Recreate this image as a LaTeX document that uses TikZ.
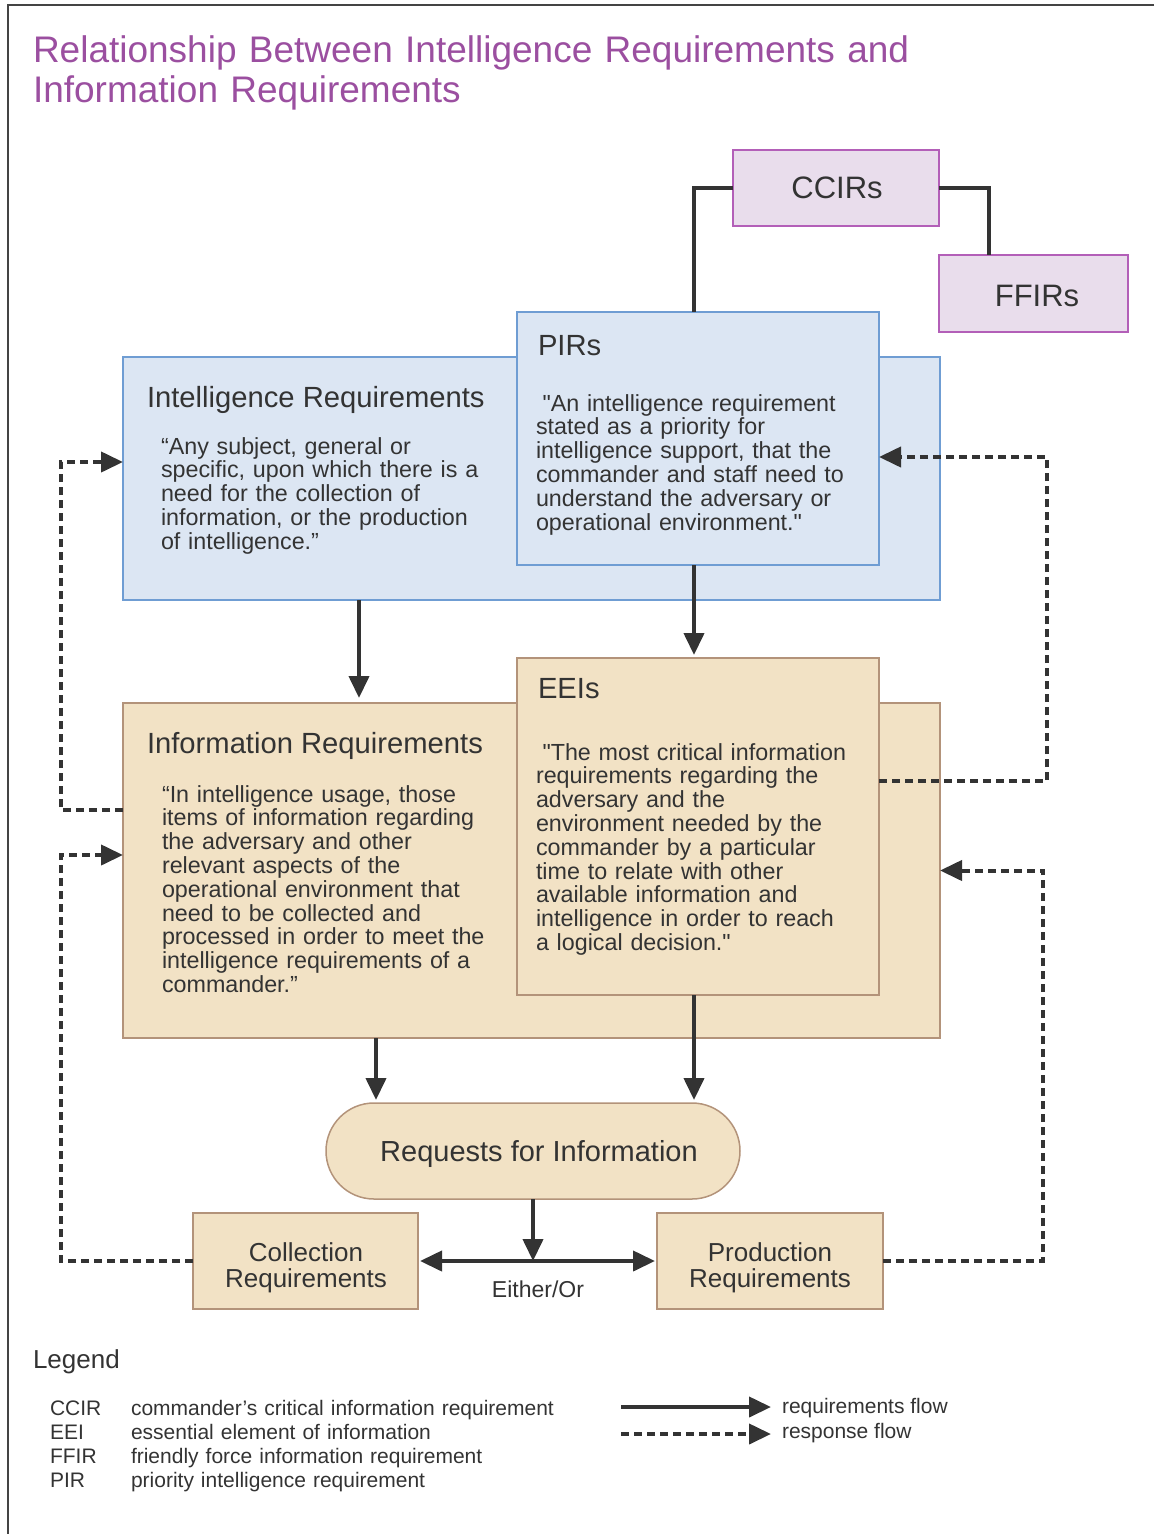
\documentclass[tikz,border=0pt]{standalone}
\usepackage{fontspec}
\setmainfont{Liberation Sans}
\newfontfamily\qfont{Liberation Sans}[Ligatures=TeXOff]
\usetikzlibrary{arrows.meta,calc}
\definecolor{txt}{HTML}{333333}
\definecolor{ttl}{HTML}{9B4FA0}
\definecolor{lavfill}{HTML}{E9DDEC}
\definecolor{lavline}{HTML}{B35FB8}
\definecolor{bluefill}{HTML}{DCE6F3}
\definecolor{blueline}{HTML}{6F9DD3}
\definecolor{tanfill}{HTML}{F2E2C5}
\definecolor{tanline}{HTML}{B3937A}
\definecolor{arr}{HTML}{333333}
\definecolor{framecol}{HTML}{444444}
\newcommand{\fsz}[2]{\fontsize{#1}{#2}\selectfont}
\newcommand{\sq}{{\qfont"}}
\begin{document}
\begin{tikzpicture}[x=1pt,y=-1pt,
  every node/.style={text=txt, inner sep=0pt, outer sep=0pt},
  lavbox/.style={draw=lavline, fill=lavfill, line width=1.5pt, anchor=north west},
  bluebox/.style={draw=blueline, fill=bluefill, line width=1.5pt, anchor=north west},
  tanbox/.style={draw=tanline, fill=tanfill, line width=1.5pt, anchor=north west},
  conn/.style={draw=arr, line width=4pt},
  req/.style={draw=arr, line width=4pt, -{Triangle[length=22pt,width=20pt]}},
  resp/.style={req, dash pattern=on 8pt off 5pt},
  qtext/.style={anchor=base west, align=left, text width=360pt, font=\fsz{23.3}{23.8}},
  hdtext/.style={anchor=base west, font=\fsz{29.2}{30}},
  legtext/.style={anchor=base west, align=left, font=\fsz{21}{24}}
]
\useasboundingbox (0,0) rectangle (1154,1534);
\draw[framecol, line width=2.5pt] (1154,5) -- (8,5) -- (8,1534);

% title
\node[anchor=base west, text=ttl, font=\fsz{37}{40}, align=left, text width=1000pt] (title) at (33,62)
  {Relationship Between Intelligence Requirements and\\Information Requirements};

% boxes
\node[lavbox, anchor=center, minimum width=206pt, minimum height=76pt] (CCIR) at (836,188) {};
\node[font=\fsz{31}{31}] (CCIRt) at (837,188) {CCIRs};
\node[lavbox, anchor=center, minimum width=189pt, minimum height=77pt] (FFIR) at (1033.5,293.5) {};
\node[font=\fsz{31}{31}] (FFIRt) at (1037,296) {FFIRs};

\node[bluebox, minimum width=817pt, minimum height=243pt] (IR) at (123,357) {};
\node[bluebox, minimum width=362pt, minimum height=253pt] (PIR) at (517,312) {};
\node[tanbox, minimum width=817pt, minimum height=335pt] (INFO) at (123,703) {};
\node[tanbox, minimum width=362pt, minimum height=337pt] (EEI) at (517,658) {};

\node[tanbox, anchor=center, rounded corners=48pt, minimum width=414pt, minimum height=96pt] (RFI) at (533,1151) {};
\node[font=\fsz{29}{29}, text depth=0pt] (RFIt) at (539,1151) {Requests for Information};
\node[tanbox, anchor=center, minimum width=225pt, minimum height=96pt] (COL) at (305.5,1261) {};
\node[align=center, font=\fsz{26}{26}] (COLt) at (306,1268) {Collection\\Requirements};
\node[tanbox, anchor=center, minimum width=226pt, minimum height=96pt] (PROD) at (770,1261) {};
\node[align=center, font=\fsz{26}{26}] (PRODt) at (770,1268) {Production\\Requirements};

% box texts
\node[hdtext] (irh) at (147,407) {Intelligence Requirements};
\node[qtext] (irq) at (161,454) {“Any subject, general or\\specific, upon which there is a\\need for the collection of\\information, or the production\\of intelligence.”};
\node[hdtext] (pirh) at (538,355) {PIRs};
\node[qtext] (pirq) at (536,411) {\hspace*{.28em}\sq An intelligence requirement\\stated as a priority for\\intelligence support, that the\\commander and staff need to\\understand the adversary or\\operational environment.\sq};
\node[hdtext] (infh) at (147,753) {Information Requirements};
\node[qtext] (infq) at (162,802) {“In intelligence usage, those\\items of information regarding\\the adversary and other\\relevant aspects of the\\operational environment that\\need to be collected and\\processed in order to meet the\\intelligence requirements of a\\commander.”};
\node[hdtext] (eeih) at (538,698) {EEIs};
\node[qtext] (eeiq) at (536,760) {\hspace*{.28em}\sq The most critical information\\requirements regarding the\\adversary and the\\environment needed by the\\commander by a particular\\time to relate with other\\available information and\\intelligence in order to reach\\a logical decision.\sq};

% solid connectors
\draw[conn] (CCIR.west) -| ([xshift=-4pt]PIR.north);
\draw[conn] (CCIR.east) -| ([xshift=50pt]FFIR.north west);
\draw[req, shorten >=5pt] ([xshift=236pt]IR.south west) -- ([xshift=236pt]INFO.north west);
\draw[req, shorten >=3pt] ([xshift=-4pt]PIR.south) -- ([xshift=-4pt]EEI.north);
\coordinate (a1) at ([xshift=253pt]INFO.south west);
\coordinate (a2) at ([xshift=-4pt]EEI.south);
\draw[req, shorten >=3pt] (a1) -- (a1 |- RFI.north);
\draw[req, shorten >=3pt] (a2) -- (a2 |- RFI.north);
\draw[req] (RFI.south) -- (RFI.south |- COL.east);
\draw[req, {Triangle[length=22pt,width=20pt]}-{Triangle[length=22pt,width=20pt]}, shorten <=2pt, shorten >=2pt] (COL.east) -- (PROD.west);
\node[font=\fsz{23}{23}] (either) at (538,1289) {Either/Or};

% dashed response connectors
\draw[resp] ([yshift=60.5pt]INFO.west) -- ++(-62,0) |- ([yshift=16.5pt]IR.west);
\draw[resp] (COL.west) -- ++(-132,0) |- ([yshift=15.5pt]INFO.west);
\draw[resp] ([yshift=45.5pt]EEI.east) -- ++(168,0) |- ([yshift=-18.5pt]PIR.east);
\draw[resp] (PROD.east) -- ++(160,0) |- (INFO.east);

% legend
\node[anchor=base west, font=\fsz{26}{26}] (leg) at (33,1368) {Legend};
\node[legtext, text width=80pt] (abbr) at (50,1415) {CCIR\\EEI\\FFIR\\PIR};
\node[legtext, text width=460pt] (defs) at (131,1415) {commander’s critical information requirement\\essential element of information\\friendly force information requirement\\priority intelligence requirement};
\node[legtext] (lreq) at (782,1413) {requirements flow};
\node[legtext] (lresp) at (782,1438) {response flow};
\coordinate (lr1) at (621,1407);
\coordinate (lr2) at (621,1434);
\draw[req] (lr1) -- ([xshift=-11pt]lr1 -| lreq.west);
\draw[resp] (lr2) -- ([xshift=-11pt]lr2 -| lresp.west);
\end{tikzpicture}
\end{document}
